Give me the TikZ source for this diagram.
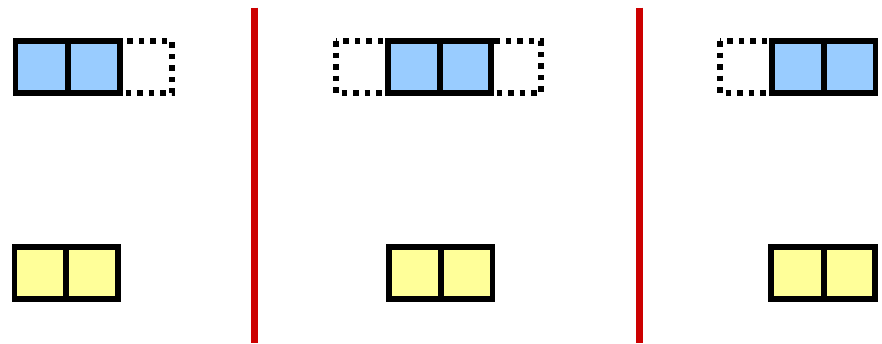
\documentclass[tikz,border=0pt]{standalone}
\definecolor{cblue}{HTML}{99CCFF}
\definecolor{cyellow}{HTML}{FFFF99}
\definecolor{cred}{HTML}{CC0000}
\tikzset{
  cellblue/.style={draw=black, line width=5.5pt, fill=cblue},
  cellyellow/.style={draw=black, line width=5.5pt, fill=cyellow},
  cellempty/.style={draw=black, line width=5.5pt, dash pattern=on 5.5pt off 6pt},
  divider/.style={draw=cred, line width=7pt}
}
\begin{document}
\begin{tikzpicture}[x=1pt,y=-1pt]
\useasboundingbox (0,0) rectangle (882,343);
% left group
\draw[cellempty] (120,41) rectangle (172,93);
\draw[cellblue] (15.5,41) rectangle (68,93);
\draw[cellblue] (68,41) rectangle (120,93);
\draw[cellyellow] (14.5,247) rectangle (66,299);
\draw[cellyellow] (66,247) rectangle (118,299);
% divider 1
\draw[divider] (254.5,7.5) -- (254.5,343);
% middle group
\draw[cellempty] (336,41) rectangle (388,93);
\draw[cellempty] (491,41) rectangle (541,93);
\draw[cellblue] (388,41) rectangle (440,93);
\draw[cellblue] (440,41) rectangle (491,93);
\draw[cellyellow] (389,247) rectangle (441,299);
\draw[cellyellow] (441,247) rectangle (492.5,299);
% divider 2
\draw[divider] (639,7.5) -- (639,343);
% right group
\draw[cellempty] (720,41) rectangle (772,93);
\draw[cellblue] (772,41) rectangle (824,93);
\draw[cellblue] (824,41) rectangle (875.5,93);
\draw[cellyellow] (771,247) rectangle (824,299);
\draw[cellyellow] (824,247) rectangle (875,299);
\end{tikzpicture}
\end{document}
